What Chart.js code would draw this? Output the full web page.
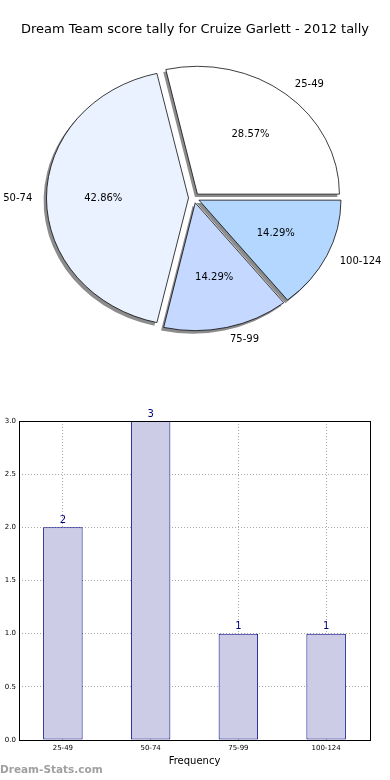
<!DOCTYPE html>
<html>
<head>
<meta charset="utf-8">
<script src="https://cdn.jsdelivr.net/npm/chart.js@4/dist/chart.umd.min.js"></script>
<style>
  body { margin: 0; background: #fff; width: 390px; height: 780px; overflow: hidden; position: relative; }
  .caja { position: absolute; left: 0; width: 390px; height: 390px; }
  #cajaPie { top: 0; }
  #cajaBarras { top: 390px; }
  #marca { position: absolute; left: 0; top: 763px; font: bold 10.5px "DejaVu Sans", sans-serif; color: #a0a0a0; }
</style>
</head>
<body>
<div class="caja" id="cajaPie"><canvas id="graficoPie" width="390" height="390"></canvas></div>
<div class="caja" id="cajaBarras"><canvas id="graficoBarras" width="390" height="390"></canvas></div>
<div id="marca">Dream-Stats.com</div>
<script>
// Datos del gráfico
const titulo = 'Dream Team score tally for Cruize Garlett - 2012 tally';
const categorias = ['25-49', '50-74', '75-99', '100-124'];
const frecuencias = [2, 3, 1, 1];
const coloresPie = ['#ffffff', '#eaf2ff', '#c5d8ff', '#b3d7ff'];
const ticksY = [0, 0.5, 1, 1.5, 2, 2.5, 3];
const tituloEjeX = 'Frequency';

const fuente = '"DejaVu Sans", sans-serif';
const escalaY = 0.9;   // el pastel original es una elipse
const separacion = 5.5; // desplazamiento de cada porción (px)

// Chart.js gira en sentido horario, matplotlib en antihorario: invertir orden
const ordenPie = [3, 2, 1, 0];
const total = frecuencias.reduce((s, v) => s + v, 0);

const pluginPie = {
  id: 'pieElipse',
  afterDatasetUpdate(chart) {
    // separar las porciones a mano (la opción offset agranda el radio)
    chart.getDatasetMeta(0).data.forEach(a => {
      const mid = (a.startAngle + a.endAngle) / 2;
      a.x += Math.cos(mid) * separacion;
      a.y += Math.sin(mid) * separacion;
    });
  },
  beforeDraw(chart) {
    const ctx = chart.ctx;
    ctx.save();
    ctx.fillStyle = '#000';
    ctx.font = '13px ' + fuente;
    ctx.textAlign = 'center';
    ctx.textBaseline = 'middle';
    ctx.fillText(titulo, 195, 30);
    ctx.restore();
  },
  beforeDatasetsDraw(chart) {
    const ctx = chart.ctx;
    const area = chart.chartArea;
    const cx = (area.left + area.right) / 2, cy = (area.top + area.bottom) / 2;
    ctx.save();
    ctx.translate(cx, cy);
    ctx.scale(1, escalaY);
    ctx.translate(-cx, -cy);
    // sombras
    ctx.save();
    ctx.fillStyle = '#8c8c8c';
    chart.getDatasetMeta(0).data.forEach(a => {
      const x = a.x - 2.5;
      const y = a.y + 2.8 / escalaY;
      ctx.beginPath();
      ctx.moveTo(x, y);
      ctx.arc(x, y, a.outerRadius + 0.4, a.startAngle, a.endAngle);
      ctx.closePath();
      ctx.fill();
    });
    ctx.restore();
  },
  afterDatasetsDraw(chart) {
    const ctx = chart.ctx;
    ctx.restore();
    const area = chart.chartArea;
    const cy = (area.top + area.bottom) / 2;
    const arcos = chart.getDatasetMeta(0).data;
    ctx.save();
    ctx.fillStyle = '#000';
    ctx.font = '10px ' + fuente;
    ctx.textBaseline = 'middle';
    arcos.forEach((a, i) => {
      const idx = ordenPie[i];
      const mid = (a.startAngle + a.endAngle) / 2;
      const c = Math.cos(mid), s = Math.sin(mid);
      const yBase = cy + (a.y - cy) * escalaY;
      const rp = a.outerRadius * 0.6;
      const pct = (frecuencias[idx] / total * 100).toFixed(2) + '%';
      ctx.textAlign = 'center';
      ctx.fillText(pct, a.x + c * rp, yBase + s * rp * escalaY);
      const rl = a.outerRadius * 1.1;
      ctx.textAlign = c > 0 ? 'left' : 'right';
      ctx.fillText(categorias[idx], a.x + c * rl, yBase + s * rl * escalaY);
    });
    ctx.restore();
  }
};

new Chart(document.getElementById('graficoPie').getContext('2d'), {
  type: 'pie',
  data: {
    labels: ordenPie.map(i => categorias[i]),
    datasets: [{
      data: ordenPie.map(i => frecuencias[i]),
      backgroundColor: ordenPie.map(i => coloresPie[i]),
      borderColor: '#000',
      borderWidth: 0.8,
      offset: 0
    }]
  },
  options: {
    responsive: false,
    animation: false,
    rotation: 90,
    radius: 142,
    layout: { padding: { left: 0, right: 2, top: 6, bottom: 0 } },
    plugins: { legend: { display: false }, tooltip: { enabled: false }, title: { display: false } }
  },
  plugins: [pluginPie]
});

const pluginBarras = {
  id: 'marcoBarras',
  afterDatasetsDraw(chart) {
    const ctx = chart.ctx;
    const a = chart.chartArea;
    const meta = chart.getDatasetMeta(0);
    ctx.save();
    ctx.strokeStyle = '#000';
    ctx.lineWidth = 1;
    ctx.strokeRect(Math.round(a.left) + 0.5, Math.round(a.top) + 0.5, Math.round(a.right - a.left), Math.round(a.bottom - a.top));
    ctx.fillStyle = '#000080';
    ctx.font = '10px ' + fuente;
    ctx.textAlign = 'center';
    ctx.textBaseline = 'bottom';
    meta.data.forEach((b, i) => {
      ctx.fillText(String(frecuencias[i]), b.x, b.y - 2);
    });
    ctx.restore();
  }
};

new Chart(document.getElementById('graficoBarras').getContext('2d'), {
  type: 'bar',
  data: {
    labels: categorias,
    datasets: [{
      data: frecuencias,
      backgroundColor: '#ccccе6'.replace('е', 'e'),
      borderColor: '#000080',
      borderWidth: 1,
      borderSkipped: false,
      categoryPercentage: 1,
      barPercentage: 0.45
    }]
  },
  options: {
    responsive: false,
    animation: false,
    layout: { padding: { left: 0, right: 20, top: 31, bottom: 0 } },
    plugins: { legend: { display: false }, tooltip: { enabled: false } },
    scales: {
      x: {
        grid: { offset: false, color: '#a8a8a8', lineWidth: 1, drawTicks: false },
        border: { display: false, dash: [1, 2] },
        ticks: { color: '#000', font: { family: fuente, size: 7 }, padding: 4, maxRotation: 0 },
        title: { display: true, text: tituloEjeX, color: '#000', font: { family: fuente, size: 10 }, padding: { top: 2, bottom: 13 } },
        afterFit(scale) { scale.height = 40; }
      },
      y: {
        min: 0,
        max: 3,
        afterBuildTicks(scale) { scale.ticks = ticksY.map(v => ({ value: v })); },
        grid: { color: '#a8a8a8', lineWidth: 1, drawTicks: false },
        border: { display: false, dash: [1, 2] },
        ticks: { color: '#000', font: { family: fuente, size: 7 }, padding: 3, callback: v => Number(v).toFixed(1) },
        afterFit(scale) { scale.width = 19; }
      }
    }
  },
  plugins: [pluginBarras]
});
</script>
</body>
</html>
